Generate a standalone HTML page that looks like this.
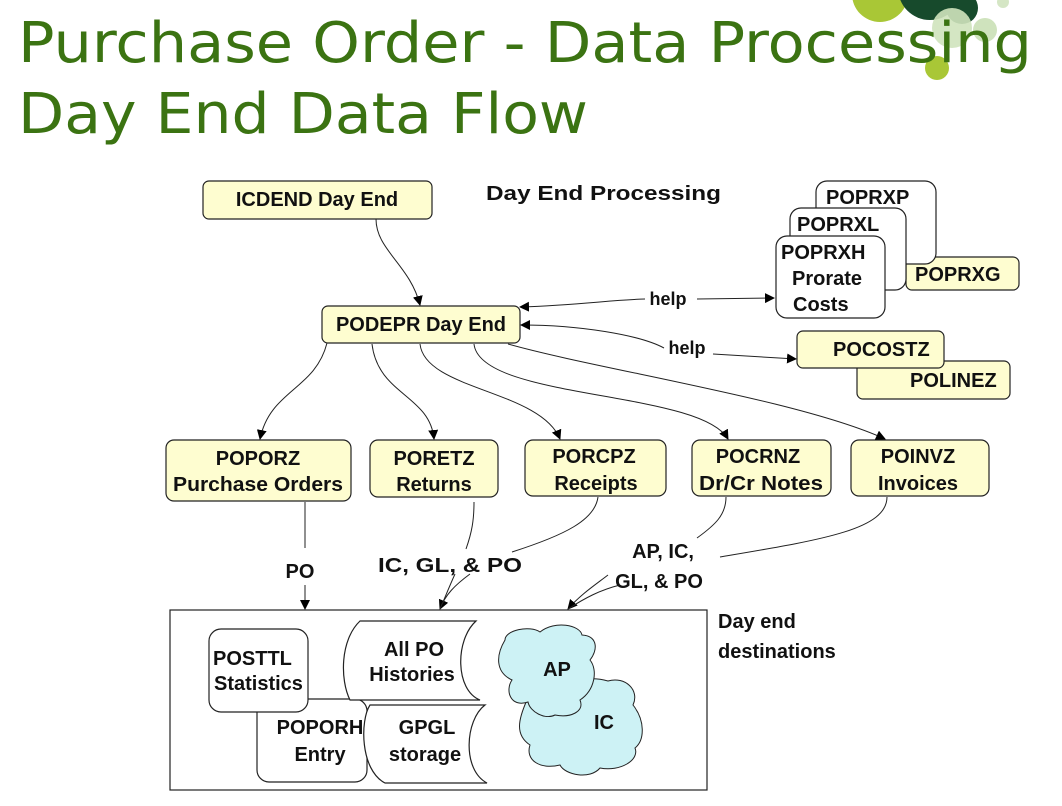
<!DOCTYPE html>
<html><head><meta charset="utf-8"><style>
html,body{margin:0;padding:0;background:#fff;}
svg{display:block;}
.t{font-family:"Liberation Sans",Arial,sans-serif;font-weight:bold;font-size:20px;fill:#111;}
.b{fill:#fefdd0;stroke:#222;stroke-width:1.2;}
.w{fill:#fff;stroke:#222;stroke-width:1.2;}
.c{fill:none;stroke:#222;stroke-width:1;}
</style></head><body>
<svg width="1062" height="806" viewBox="0 0 1062 806" xmlns="http://www.w3.org/2000/svg">
<defs><marker id="a" viewBox="0 0 10 10" refX="9" refY="5" markerWidth="10" markerHeight="10" orient="auto" markerUnits="userSpaceOnUse"><path d="M0,0 L10,5 L0,10 z" fill="#000"/></marker>
<marker id="s" viewBox="0 0 10 10" refX="1" refY="5" markerWidth="10" markerHeight="10" orient="auto" markerUnits="userSpaceOnUse"><path d="M10,0 L0,5 L10,10 z" fill="#000"/></marker></defs>
<circle cx="880" cy="-6" r="28" fill="#a9c736"/>
<circle cx="930" cy="-12" r="32" fill="#174a2c"/>
<circle cx="962" cy="8" r="16" fill="#174a2c"/>
<circle cx="952" cy="28" r="20" fill="#cfe3bd" opacity="0.9"/>
<circle cx="985" cy="30" r="12" fill="#cfe3bd"/>
<circle cx="937" cy="68" r="12" fill="#a9c736"/>
<circle cx="1003" cy="2" r="6" fill="#d5e6c5"/>
<text x="18" y="62" font-family="DejaVu Sans,Verdana,sans-serif" font-size="56" fill="#3b7312" textLength="1014" lengthAdjust="spacingAndGlyphs">Purchase Order - Data Processing</text>
<text x="18" y="133" font-family="DejaVu Sans,Verdana,sans-serif" font-size="56" fill="#3b7312" textLength="570" lengthAdjust="spacingAndGlyphs">Day End Data Flow</text>

<text class="t" x="486" y="200" textLength="235" lengthAdjust="spacingAndGlyphs">Day End Processing</text>

<rect class="b" x="906" y="257" width="113" height="33" rx="6"/>
<text class="t" x="915" y="281">POPRXG</text>
<rect class="w" x="816" y="181" width="120" height="83" rx="11"/>
<text class="t" x="826" y="204">POPRXP</text>
<rect class="w" x="790" y="208" width="116" height="82" rx="11"/>
<text class="t" x="797" y="231">POPRXL</text>
<rect class="w" x="776" y="236" width="109" height="82" rx="11"/>
<text class="t" x="781" y="259">POPRXH</text>
<text class="t" x="792" y="285">Prorate</text>
<text class="t" x="793" y="311">Costs</text>
<rect class="b" x="857" y="361" width="153" height="38" rx="6"/>
<text class="t" x="910" y="387">POLINEZ</text>
<rect class="b" x="797" y="331" width="147" height="37" rx="6"/>
<text class="t" x="833" y="356">POCOSTZ</text>

<rect class="b" x="203" y="181" width="229" height="38" rx="6"/>
<text class="t" x="317" y="206" text-anchor="middle">ICDEND Day End</text>
<rect class="b" x="322" y="306" width="198" height="37" rx="6"/>
<text class="t" x="421" y="331" text-anchor="middle">PODEPR Day End</text>

<rect class="b" x="166" y="440" width="185" height="61" rx="8"/>
<text class="t" x="258" y="465" text-anchor="middle">POPORZ</text>
<text class="t" x="258" y="491" text-anchor="middle" textLength="170" lengthAdjust="spacingAndGlyphs">Purchase Orders</text>
<rect class="b" x="370" y="440" width="128" height="57" rx="8"/>
<text class="t" x="434" y="465" text-anchor="middle">PORETZ</text>
<text class="t" x="434" y="491" text-anchor="middle">Returns</text>
<rect class="b" x="525" y="440" width="141" height="56" rx="8"/>
<text class="t" x="594" y="463" text-anchor="middle">PORCPZ</text>
<text class="t" x="596" y="490" text-anchor="middle">Receipts</text>
<rect class="b" x="692" y="440" width="139" height="56" rx="8"/>
<text class="t" x="758" y="463" text-anchor="middle">POCRNZ</text>
<text class="t" x="761" y="490" text-anchor="middle" textLength="124" lengthAdjust="spacingAndGlyphs">Dr/Cr Notes</text>
<rect class="b" x="851" y="440" width="138" height="56" rx="8"/>
<text class="t" x="918" y="463" text-anchor="middle">POINVZ</text>
<text class="t" x="918" y="490" text-anchor="middle">Invoices</text>

<path class="c" d="M376,219 C376,250 410,265 420,305" marker-end="url(#a)"/>
<path class="c" d="M520,307 C580,305 610,300 645,299" marker-start="url(#s)"/>
<path class="c" d="M697,299 L774,298" marker-end="url(#a)"/>
<path class="c" d="M521,325 C580,325 640,335 664,348" marker-start="url(#s)"/>
<path class="c" d="M713,354 L796,359" marker-end="url(#a)"/>
<path class="c" d="M327,343 C315,390 270,390 260,439" marker-end="url(#a)"/>
<path class="c" d="M372,344 C378,395 430,395 434,439" marker-end="url(#a)"/>
<path class="c" d="M420,344 C425,390 540,390 560,439" marker-end="url(#a)"/>
<path class="c" d="M474,344 C480,400 700,390 728,439" marker-end="url(#a)"/>
<path class="c" d="M508,344 C600,370 800,400 885,439" marker-end="url(#a)"/>

<path class="c" d="M305,502 L305,548"/>
<path class="c" d="M305,585 L305,609" marker-end="url(#a)"/>
<text class="t" x="300" y="578" text-anchor="middle">PO</text>
<path class="c" d="M474,502 C474,520 472,532 466,549"/>
<path class="c" d="M598,497 C595,520 565,535 512,552"/>
<path class="c" d="M455,574 C450,585 446,595 440,609" marker-end="url(#a)"/>
<path class="c" d="M470,574 C455,585 445,595 440,609"/>
<text class="t" x="450" y="572" text-anchor="middle" textLength="144" lengthAdjust="spacingAndGlyphs">IC, GL, &amp; PO</text>
<path class="c" d="M726,497 C726,515 715,525 697,538"/>
<path class="c" d="M887,497 C887,530 820,540 720,557"/>
<path class="c" d="M608,575 C595,585 580,595 568,609" marker-end="url(#a)"/>
<path class="c" d="M620,585 C600,590 585,598 568,609"/>
<text class="t" x="663" y="558" text-anchor="middle">AP, IC,</text>
<text class="t" x="659" y="588" text-anchor="middle">GL,  &amp; PO</text>

<rect x="170" y="610" width="537" height="180" fill="#fff" stroke="#222" stroke-width="1.2"/>
<text class="t" x="718" y="628">Day end</text>
<text class="t" x="718" y="658">destinations</text>

<rect class="w" x="257" y="699" width="110" height="83" rx="12"/>
<text class="t" x="320" y="734" text-anchor="middle">POPORH</text>
<text class="t" x="320" y="761" text-anchor="middle">Entry</text>
<rect class="w" x="209" y="629" width="99" height="83" rx="12"/>
<text class="t" x="213" y="665">POSTTL</text>
<text class="t" x="214" y="690">Statistics</text>

<path class="w" d="M370,705 L485,705 C465,720 462,770 487,783 L385,783 C360,770 360,720 370,705 Z"/>
<text class="t" x="427" y="734" text-anchor="middle">GPGL</text>
<text class="t" x="425" y="761" text-anchor="middle">storage</text>
<path class="w" d="M360,621 L476,621 C455,640 455,690 480,700 L350,700 C340,680 340,640 360,621 Z"/>
<text class="t" x="414" y="656" text-anchor="middle">All PO</text>
<text class="t" x="412" y="681" text-anchor="middle">Histories</text>

<path d="M527,700 C530,690 560,705 567,690 C570,680 590,676 608,681 C625,676 640,690 633,705 C645,720 645,740 635,748 C640,760 620,772 600,768 C590,780 565,775 560,765 C540,770 525,760 530,745 C515,735 518,720 527,700 Z" fill="#cdf2f5" stroke="#222" stroke-width="1"/>
<path d="M505,640 C505,630 530,625 540,632 C555,620 580,625 582,635 C598,636 598,650 590,660 C598,670 595,690 580,700 C585,712 570,718 555,715 C545,720 530,712 528,702 C510,708 505,690 512,680 C495,672 496,655 505,640 Z" fill="#cdf2f5" stroke="#222" stroke-width="1"/>
<text class="t" x="557" y="676" text-anchor="middle">AP</text>
<text class="t" x="604" y="729" text-anchor="middle">IC</text>

<text class="t" x="668" y="305" text-anchor="middle" style="font-size:18px">help</text>
<text class="t" x="687" y="354" text-anchor="middle" style="font-size:18px">help</text>
</svg>
</body></html>
